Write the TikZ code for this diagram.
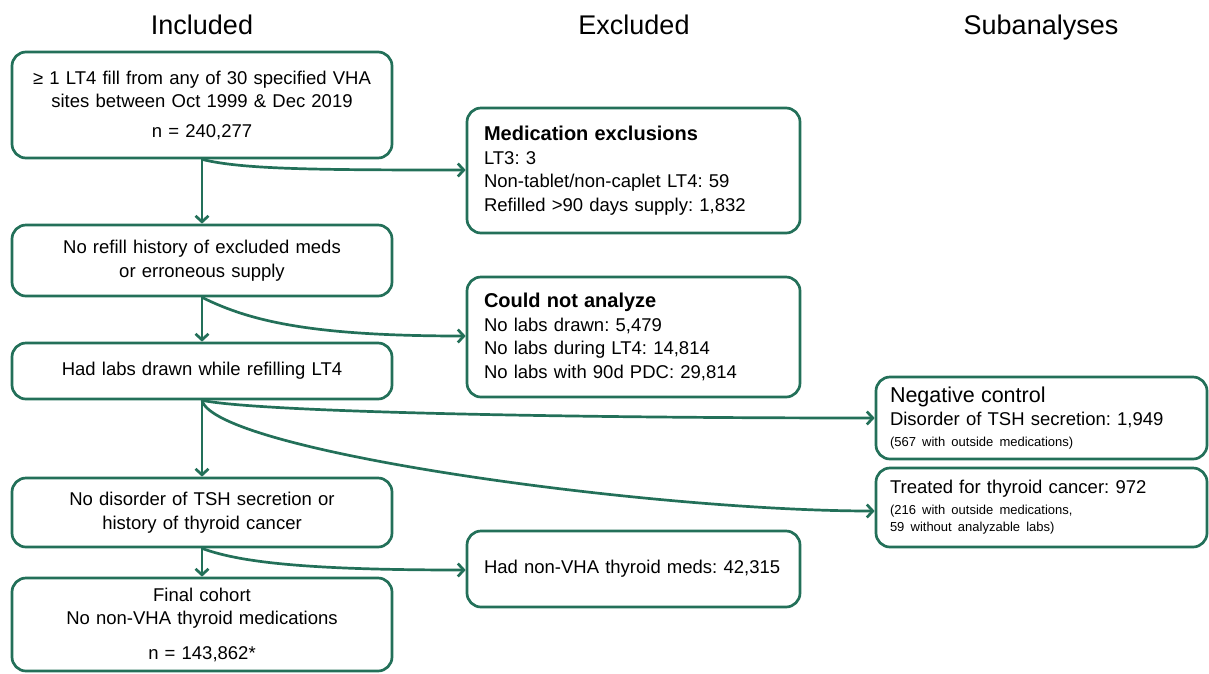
\documentclass[tikz,border=0pt]{standalone}
\usepackage{fontspec}
\setmainfont{Liberation Sans}
\usetikzlibrary{arrows.meta}

\definecolor{vagreen}{HTML}{237059}
\frenchspacing

\tikzset{
	box/.style={draw=vagreen, line width=2.7pt, rounded corners=14pt, inner sep=0pt, font=\fontsize{18.5}{23.5}\selectfont},
	incbox/.style={box, minimum width=380pt, text width=370pt, align=center},
	excbox/.style={box, minimum width=333pt, text width=299pt, align=left},
	subbox/.style={box, minimum width=331pt, text width=303pt, align=left},
	head/.style={font=\fontsize{27}{30}\selectfont, anchor=base},
	flow/.style={draw=vagreen, line width=2.7pt, -{Straight Barb[length=6pt,width=13pt,line width=2.7pt]}}
}

\begin{document}
\begin{tikzpicture}[x=1pt, y=-1pt]
	\useasboundingbox (0, 0) rectangle (1209, 673);

	% column heads
	\node[head] (hinc) at (202, 34) {Included};
	\node[head] (hexc) at (634, 34) {Excluded};
	\node[head] (hsub) at (1041, 34) {Subanalyses};

	% included column
	\node[incbox, minimum height=106pt] (start) at (202, 105) {≥ 1 LT4 fill from any of 30 specified VHA\\ sites between Oct 1999 \& Dec 2019\\[6pt] n = 240,277};
	\node[incbox, minimum height=71pt] (refill) at (202, 260.5) {No refill history of excluded meds\\ or erroneous supply};
	\node[incbox, minimum height=56pt] (labs) at (202, 371) {Had labs drawn while refilling LT4};
	\node[incbox, minimum height=69pt] (nodis) at (202, 512.5) {No disorder of TSH secretion or\\ history of thyroid cancer};
	\node[incbox, minimum height=93pt] (final) at (202, 624.5) {Final cohort\\ No non-VHA thyroid medications\\[11pt] n = 143,862*};

	% excluded column
	\node[excbox, minimum height=125pt] (medex) at (633.5, 170.5) {{\bfseries\fontsize{20}{24}\selectfont Medication exclusions\par} LT3: 3\\ Non-tablet/non-caplet LT4: 59\\ Refilled >90 days supply: 1,832};
	\node[excbox, minimum height=120pt] (noanal) at (633.5, 337) {{\bfseries\fontsize{20}{25}\selectfont Could not analyze\par} No labs drawn: 5,479\\ No labs during LT4: 14,814\\ No labs with 90d PDC: 29,814};
	\node[excbox, minimum height=76pt] (nonvha) at (633.5, 569) {Had non-VHA thyroid meds: 42,315};

	% subanalyses
	\node[subbox, minimum height=82pt] (negctl) at (1041.5, 418) {{\fontsize{21.5}{24}\selectfont Negative control\par} Disorder of TSH secretion: 1,949\par {\fontsize{13}{21}\selectfont (567 with outside medications)\par}};
	\node[subbox, minimum height=79pt] (cancer) at (1041.5, 507.5) {Treated for thyroid cancer: 972\\[4pt] {\fontsize{13}{17}\selectfont (216 with outside medications,\\ 59 without analyzable labs)\par}};

	% connectors
	\draw[flow] (start) -- (refill);
	\draw[flow] (refill) -- (labs);
	\draw[flow] (labs) -- (nodis);
	\draw[flow] (nodis) -- (final);

	\draw[flow] (start.south) .. controls +(40, 10) and +(-150, 0) .. (medex.west |- 0, 170);
	\draw[flow] (refill.south) .. controls +(50, 25) and +(-150, 0) .. (noanal.west |- 0, 336);
	\draw[flow] (labs.south) .. controls +(60, 12) and +(-300, 0) .. (negctl.west);
	\draw[flow] (labs.south) .. controls +(13, 51) and +(-225, 0) .. (cancer.west |- 0, 511);
	\draw[flow] (nodis.south) .. controls +(40, 15) and +(-150, 0) .. (nonvha.west |- 0, 570);
\end{tikzpicture}
\end{document}
